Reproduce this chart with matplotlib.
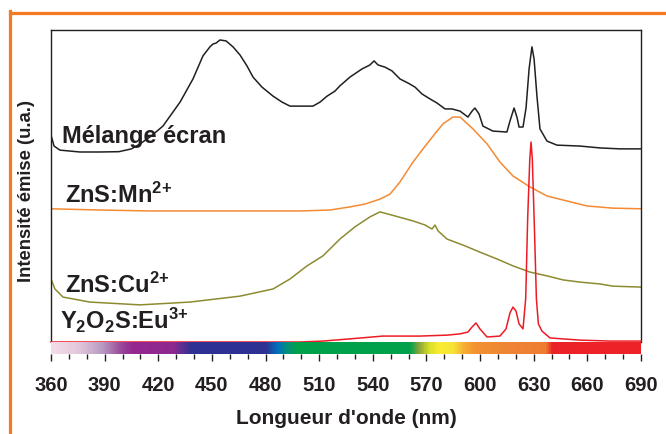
import matplotlib
matplotlib.use("Agg")
import matplotlib.pyplot as plt
import numpy as np
from matplotlib.colors import LinearSegmentedColormap
from matplotlib.lines import Line2D

plt.rcParams["font.family"] = ["Liberation Sans", "DejaVu Sans"]
plt.rcParams["mathtext.fontset"] = "custom"
plt.rcParams["mathtext.rm"] = "Liberation Sans:bold"
plt.rcParams["mathtext.it"] = "Liberation Sans:bold"
plt.rcParams["mathtext.bf"] = "Liberation Sans:bold"

# emission spectra, wavelength (nm) vs intensity (u.a., 0-100)
melange_wl = [360.0, 361.7, 365.0, 376.2, 387.4, 398.0, 405.0, 409.8, 416.0, 422.6,
              432.2, 439.4, 445.0, 448.9, 450.6, 452.3, 454.5, 457.9, 461.8, 465.7,
              469.6, 473.0, 478.0, 484.2, 489.2, 493.7, 506.5, 510.5, 514.4, 518.8,
              521.6, 527.2, 533.9, 538.4, 540.7, 542.9, 546.8, 550.7, 555.2, 559.7,
              563.6, 567.5, 572.0, 575.9, 580.4, 584.3, 588.8, 591.6, 593.2, 595.5,
              597.1, 599.4, 601.6, 607.2, 615.0, 616.7, 619.0, 620.6, 621.8, 624.0,
              625.7, 627.4, 629.0, 630.2, 631.8, 633.5, 637.4, 643.0, 655.9, 667.1,
              678.2, 690.0]
melange_int = [66.3, 62.8, 61.5, 60.9, 60.9, 61.0, 61.9, 63.5, 66.0, 69.2,
               76.9, 84.3, 91.7, 94.6, 95.5, 95.8, 96.8, 96.5, 94.6, 92.0,
               88.5, 84.9, 81.7, 78.8, 76.9, 75.6, 75.6, 76.9, 78.8, 80.4,
               82.1, 84.9, 87.5, 88.8, 90.1, 88.8, 88.1, 86.9, 84.3, 83.0,
               81.7, 79.5, 77.9, 76.6, 74.7, 74.7, 74.0, 72.8, 72.1, 74.0,
               75.0, 73.1, 69.2, 67.6, 67.3, 70.8, 75.0, 72.1, 68.9, 68.9,
               75.0, 87.5, 94.6, 90.7, 78.8, 68.3, 64.4, 63.1, 62.8, 62.2,
               61.9, 61.9]

mn_wl = [360.0, 387.4, 415.4, 443.3, 471.3, 499.3, 516.0, 527.2, 535.6, 544.0,
         549.6, 555.2, 562.5, 568.1, 573.7, 579.2, 584.8, 588.8, 596.0, 603.9,
         611.1, 618.4, 627.9, 637.4, 648.6, 659.8, 674.3, 690.0]
mn_int = [42.7, 42.3, 42.0, 42.0, 42.0, 42.0, 42.3, 43.3, 44.2, 45.8,
          47.4, 51.3, 57.7, 61.9, 66.0, 69.9, 72.1, 72.1, 68.3, 63.5,
          57.7, 53.2, 49.7, 46.8, 45.2, 43.6, 42.9, 42.7]

cu_wl = [360.0, 362.2, 366.7, 381.8, 409.8, 437.7, 465.7, 484.2, 493.7, 503.2,
         512.1, 521.6, 530.0, 538.4, 544.0, 552.4, 562.5, 569.2, 573.1, 574.8,
         576.5, 581.5, 591.6, 599.9, 609.5, 618.4, 627.9, 637.4, 646.4, 655.9,
         667.1, 674.3, 690.0]
cu_int = [20.2, 17.0, 14.4, 12.8, 11.9, 12.8, 14.7, 17.0, 20.2, 24.4,
          27.6, 33.0, 36.9, 40.1, 41.7, 40.4, 38.8, 37.5, 36.2, 37.5,
          35.6, 33.0, 30.8, 28.8, 26.6, 24.4, 22.4, 21.2, 19.9, 19.2,
          18.6, 17.9, 17.6]

eu_wl = [360.0, 415.4, 499.3, 512.1, 527.2, 545.7, 566.4, 581.5, 588.8, 593.2,
         595.5, 597.7, 599.9, 603.9, 611.1, 614.5, 616.7, 618.4, 620.1, 621.8,
         624.0, 625.5, 626.6, 627.8, 628.5, 629.2, 630.4, 631.5, 632.6, 634.6,
         639.1, 655.9, 672.6, 690.0]
eu_int = [0.0, 0.0, 0.0, 0.3, 1.0, 1.9, 1.9, 2.2, 2.6, 3.2,
          4.8, 6.1, 4.2, 1.6, 1.9, 4.2, 9.3, 11.2, 9.9, 5.8,
          4.2, 13.8, 39.4, 58.7, 64.1, 58.7, 36.2, 13.8, 5.8, 3.5,
          1.3, 0.6, 0.3, 0.3]

# visible spectrum strip
spectrum_wl = [360, 375, 388, 398, 405, 428, 438, 480, 487, 492, 497, 561,
               566, 572, 577, 585, 591, 597, 615, 637, 641, 690]
spectrum_col = ["#f4dce8", "#e2c6dc", "#b99ac2", "#9a4d9c", "#93278f", "#8e2990",
                "#2e3192", "#2e3192", "#0072bc", "#05907a", "#00a14b", "#00a14b",
                "#8aa53a", "#d6df26", "#f9ed32", "#f7e436", "#f8b133", "#f39331",
                "#ee8535", "#ef7d32", "#ec2227", "#ec2227"]

x_ticks = list(range(360, 691, 30))

W, H = 666, 435
fig = plt.figure(figsize=(W / 100, H / 100), dpi=100)

ax = fig.add_axes([51 / W, (H - 343) / H, 590 / W, 312 / H])
cax = fig.add_axes([51 / W, (H - 355) / H, 590 / W, 12 / H], sharex=ax)

lw = 1.1
ax.plot(melange_wl, melange_int, color="#231f20", lw=lw)
ax.plot(mn_wl, mn_int, color="#f58a33", lw=lw)
ax.plot(cu_wl, cu_int, color="#8d8b30", lw=lw)
ax.plot(eu_wl, eu_int, color="#ed1c24", lw=lw, clip_on=False, zorder=5)

ax.set_xlim(360, 690)
ax.set_ylim(0, 100)
ax.spines["bottom"].set_visible(False)
for s in ("left", "right", "top"):
    ax.spines[s].set_linewidth(1.0)
    ax.spines[s].set_color("#231f20")
ax.tick_params(left=False, labelleft=False, bottom=False, labelbottom=False)

pos = [(w - 360) / 330 for w in spectrum_wl]
cmap = LinearSegmentedColormap.from_list("spectrum", list(zip(pos, spectrum_col)))
strip = np.linspace(360, 690, 800).reshape(1, -1)
cax.imshow(strip, cmap=cmap, vmin=360, vmax=690, extent=[360, 690, 0, 1], aspect="auto")
for s in cax.spines.values():
    s.set_visible(False)
cax.set_yticks([])
cax.set_xticks(x_ticks)
cax.set_xticks(range(360, 691, 10), minor=True)
cax.tick_params(axis="x", which="major", direction="out", length=5, width=1.0,
                color="#231f20", pad=10, labelsize=14.5)
cax.tick_params(axis="x", which="minor", direction="out", length=3.5, width=1.0,
                color="#231f20")
for lab in cax.get_xticklabels():
    lab.set_fontweight("bold")
    lab.set_color("#231f20")
cax.set_xlim(360, 690)

fig.text(346 / W, 1 - 419 / H, "Longueur d'onde (nm)", ha="center", va="center",
         fontsize=15, fontweight="bold", color="#231f20")
fig.text(27 / W, 1 - 191 / H, "Intensité émise (u.a.)", ha="center", va="center",
         rotation=90, fontsize=13.3, fontweight="bold", color="#231f20")

lab_kw = dict(fontsize=17, fontweight="bold", color="#231f20", va="baseline", ha="left")
fig.text(62 / W, 1 - 143 / H, "Mélange écran", **lab_kw)
fig.text(65 / W, 1 - 203 / H, r"ZnS:Mn$^{2{+}}$", **lab_kw)
fig.text(65 / W, 1 - 293 / H, r"ZnS:Cu$^{2{+}}$", **lab_kw)
fig.text(60 / W, 1 - 329 / H, r"Y$_2$O$_2$S:Eu$^{3{+}}$", **lab_kw)

# orange frame (top and left edges)
frame_col = "#f47920"
fig.add_artist(Line2D([9.5 / W, 9.5 / W], [0, 1 - 12 / H], color=frame_col, lw=2.3,
                      transform=fig.transFigure, solid_capstyle="projecting"))
fig.add_artist(Line2D([9.5 / W, 1], [1 - 13.5 / H, 1 - 13.5 / H], color=frame_col, lw=2.3,
                      transform=fig.transFigure, solid_capstyle="projecting"))

fig.savefig("out.png", dpi=100)
